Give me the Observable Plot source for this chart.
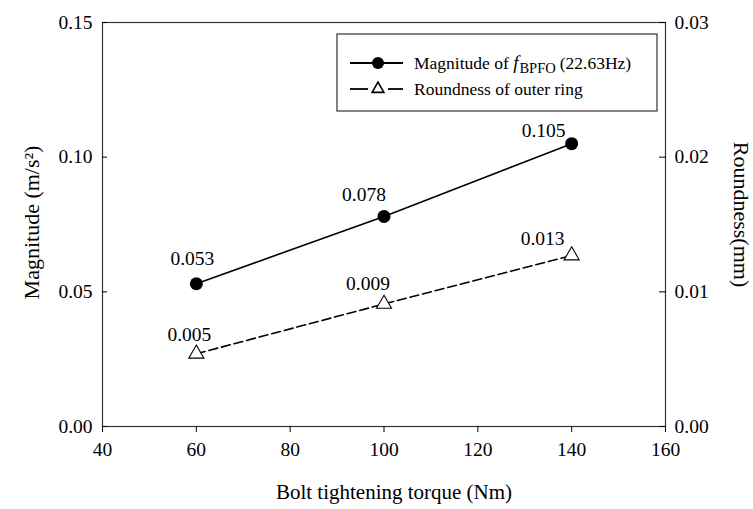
<!DOCTYPE html>
<html>
<head>
<meta charset="utf-8">
<script src="https://cdn.jsdelivr.net/npm/d3@7"></script>
<script src="https://cdn.jsdelivr.net/npm/@observablehq/plot@0.6"></script>
<style>
  html, body { margin: 0; padding: 0; background: #fff; }
  #chart { width: 753px; height: 509px; }
</style>
</head>
<body>
<div id="chart"></div>
<script>
// ---- data ----
const torque = [60, 100, 140];
const magnitude = [0.053, 0.078, 0.105];
const roundness = [0.0054, 0.0091, 0.0127];
const magnitudeLabels = ["0.053", "0.078", "0.105"];
const roundnessLabels = ["0.005", "0.009", "0.013"];
const xTicks = [40, 60, 80, 100, 120, 140, 160];
const leftTicks = [0, 0.05, 0.10, 0.15];
const rightTicks = [0, 0.01, 0.02, 0.03];
const seriesNames = ["Magnitude of ", "Roundness of outer ring"];

const ratio = 0.15 / 0.03; // right axis (roundness) -> left axis (magnitude)
const magData = torque.map((t, i) => ({t, v: magnitude[i], label: magnitudeLabels[i]}));
const rndData = torque.map((t, i) => ({t, v: +(roundness[i] * ratio).toFixed(6), label: roundnessLabels[i]}));

const font = '"Liberation Serif", "Times New Roman", serif';
const fs = 19.5;
const magOffsets = [[-4, -25], [-20, -22], [-28, -13]];
const rndOffsets = [[-7, -19], [-16, -20], [-29, -17]];

const chart = Plot.plot({
  width: 753,
  height: 509,
  marginLeft: 102,
  marginRight: 88,
  marginTop: 22,
  marginBottom: 83,
  style: {fontFamily: font, fontSize: fs + "px", color: "#000", background: "#fff", overflow: "visible"},
  x: {domain: [40, 160]},
  y: {domain: [0, 0.15]},
  marks: [
    Plot.frame({stroke: "#333", strokeWidth: 1.2}),
    Plot.axisX({ticks: xTicks, tickSize: 6, tickPadding: 10, tickFormat: d => String(d), label: null, fontSize: fs}),
    Plot.axisY({ticks: leftTicks, tickSize: -5, tickPadding: 15, tickFormat: d3.format(".2f"), label: null, fontSize: fs}),
    Plot.axisY({anchor: "right", ticks: rightTicks.map(v => +(v * ratio).toFixed(6)), tickSize: -7, tickPadding: 16,
      tickFormat: v => d3.format(".2f")(v / ratio), label: null, fontSize: fs}),
    Plot.line(magData, {x: "t", y: "v", stroke: "#000", strokeWidth: 1.6}),
    Plot.dot(magData, {x: "t", y: "v", r: 6.5, fill: "#000", stroke: "none"}),
    Plot.line(rndData, {x: "t", y: "v", stroke: "#000", strokeWidth: 1.6, strokeDasharray: "9,4"}),
    Plot.dot(rndData, {x: "t", y: "v", symbol: "triangle", r: 5.6, fill: "#fff", stroke: "#000", strokeWidth: 1.1}),
    ...magData.map((d, i) => Plot.text([d], {x: "t", y: "v", text: "label", dx: magOffsets[i][0], dy: magOffsets[i][1], fontSize: fs})),
    ...rndData.map((d, i) => Plot.text([d], {x: "t", y: "v", text: "label", dx: rndOffsets[i][0], dy: rndOffsets[i][1], fontSize: fs})),
    Plot.text(["Magnitude (m/s²)"], {frameAnchor: "left", textAnchor: "middle", lineAnchor: "middle", dx: -71, dy: -2, rotate: -90, fontSize: 22}),
    Plot.text(["Roundness(mm)"], {frameAnchor: "right", textAnchor: "middle", lineAnchor: "middle", dx: 76, dy: -10, rotate: 90, fontSize: 22}),
    Plot.text(["Bolt tightening torque (Nm)"], {frameAnchor: "bottom", textAnchor: "middle", lineAnchor: "middle", dx: 10, dy: 66, fontSize: 21})
  ]
});

// ---- legend inside the svg ----
const svg = d3.select(chart);
const lg = svg.append("g").attr("font-family", font).attr("font-size", 17.5).attr("fill", "#000").attr("text-anchor", "start");
lg.append("rect").attr("x", 337).attr("y", 34).attr("width", 320).attr("height", 77)
  .attr("fill", "#fff").attr("stroke", "#333").attr("stroke-width", 1.2);
// row 1
lg.append("line").attr("x1", 350).attr("x2", 403).attr("y1", 63).attr("y2", 63).attr("stroke", "#000").attr("stroke-width", 1.8);
lg.append("circle").attr("cx", 378).attr("cy", 63).attr("r", 6).attr("fill", "#000");
const t1 = lg.append("text").attr("x", 414).attr("y", 63).attr("dy", "0.32em");
t1.append("tspan").text(seriesNames[0]);
t1.append("tspan").attr("font-style", "italic").attr("font-size", 19).text("f");
t1.append("tspan").attr("font-size", 14.5).attr("dx", 1).attr("dy", 4).text("BPFO");
t1.append("tspan").attr("dx", 4).attr("dy", -4).text("(22.63Hz)");
// row 2
lg.append("line").attr("x1", 350).attr("x2", 368).attr("y1", 89).attr("y2", 89).attr("stroke", "#000").attr("stroke-width", 1.8);
lg.append("line").attr("x1", 388).attr("x2", 403).attr("y1", 89).attr("y2", 89).attr("stroke", "#000").attr("stroke-width", 1.8);
lg.append("path").attr("d", d3.symbol(d3.symbolTriangle, 60)()).attr("transform", "translate(378,89)")
  .attr("fill", "#fff").attr("stroke", "#000").attr("stroke-width", 1.6);
lg.append("text").attr("x", 414).attr("y", 89).attr("dy", "0.32em").text(seriesNames[1]);

document.getElementById("chart").appendChild(chart);
</script>
</body>
</html>
